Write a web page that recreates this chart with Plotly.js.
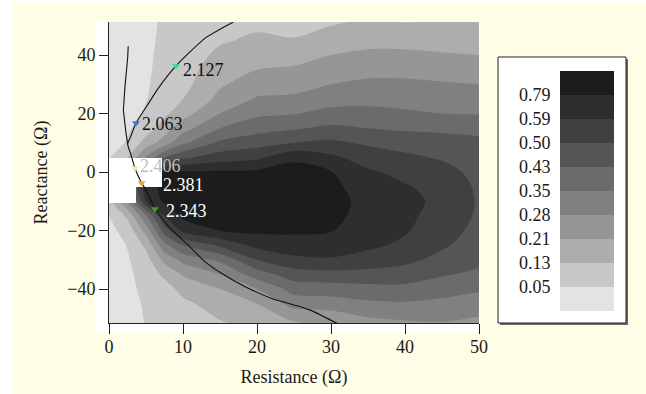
<!DOCTYPE html>
<html><head><meta charset="utf-8">
<script src="https://cdn.plot.ly/plotly-3.0.1.min.js"></script>
<style>
html,body{margin:0;padding:0;background:#ffffff;}
#chart{position:absolute;left:12px;top:3px;width:634px;height:391px;}
</style></head><body><div id="chart"></div>
<script>
// ---- data ----
const resistance = [0, 2.5, 5, 7.5, 10, 15, 20, 25, 30, 35, 40, 45, 50];
const reactance = [-52, -45, -40, -35, -30, -25, -20, -15, -10, -5, 0, 5, 10, 15, 20, 25, 30, 35, 40, 45, 52];
// one array per resistance value, listed from reactance -52 up to +52
const valueColumns = [
  [0.015,0.015,0.015,0.018,0.02,0.025,0.035,0.05,0.098,0.098,0.074,0.045,0.025,0.02,0.018,0.015,0.013,0.01,0.01,0.01,0.01],
  [0.025,0.03,0.035,0.04,0.045,0.054,0.082,0.146,0.28,0.35,0.245,0.13,0.058,0.043,0.035,0.03,0.028,0.025,0.025,0.023,0.02],
  [0.054,0.062,0.074,0.082,0.098,0.146,0.238,0.343,0.59,0.69,0.5,0.294,0.162,0.09,0.058,0.048,0.046,0.044,0.043,0.042,0.041],
  [0.07,0.082,0.098,0.146,0.231,0.329,0.465,0.59,0.83,0.85,0.81,0.43,0.245,0.17,0.114,0.086,0.074,0.07,0.066,0.062,0.058],
  [0.086,0.114,0.154,0.217,0.301,0.43,0.65,0.83,0.89,0.89,0.81,0.486,0.336,0.252,0.178,0.13,0.106,0.094,0.082,0.074,0.07],
  [0.122,0.162,0.21,0.28,0.366,0.518,0.79,0.87,0.90,0.89,0.82,0.545,0.444,0.35,0.28,0.23,0.2,0.178,0.15,0.12,0.082],
  [0.146,0.21,0.28,0.39,0.50,0.65,0.83,0.89,0.91,0.89,0.83,0.572,0.472,0.398,0.336,0.287,0.245,0.21,0.178,0.146,0.106],
  [0.194,0.308,0.382,0.465,0.5675,0.71,0.82,0.89,0.91,0.91,0.87,0.75,0.50,0.422,0.3465,0.294,0.252,0.2205,0.178,0.138,0.082],
  [0.21,0.315,0.39,0.4755,0.581,0.69,0.80,0.84,0.86,0.84,0.80,0.63,0.518,0.444,0.374,0.322,0.28,0.245,0.21,0.17,0.114],
  [0.252,0.336,0.402,0.4755,0.554,0.63,0.68,0.72,0.73,0.69,0.62,0.5495,0.4895,0.43,0.374,0.329,0.294,0.259,0.224,0.186,0.13],
  [0.266,0.343,0.406,0.4685,0.5225,0.572,0.61,0.63,0.65,0.61,0.563,0.518,0.472,0.418,0.362,0.3255,0.294,0.259,0.224,0.186,0.122],
  [0.273,0.3325,0.382,0.437,0.479,0.5135,0.5405,0.5585,0.5675,0.554,0.5315,0.493,0.458,0.414,0.35,0.3185,0.287,0.252,0.217,0.178,0.13],
  [0.259,0.315,0.36,0.414,0.4475,0.465,0.479,0.4895,0.493,0.4895,0.479,0.465,0.4475,0.406,0.3465,0.315,0.28,0.245,0.21,0.162,0.134]
];
const levelValues = [0.05, 0.13, 0.21, 0.28, 0.35, 0.43, 0.50, 0.59, 0.79];
const levelLabels = ['0.05', '0.13', '0.21', '0.28', '0.35', '0.43', '0.50', '0.59', '0.79'];

const curveR = [16.8, 13.0, 9.05, 6.67, 5.09, 3.65, 2.84, 2.52, 3.06, 3.5, 4.2, 5.1, 6.2, 7.3, 8.5, 10.7, 13.0, 15.2, 18.4, 22.0, 25.1, 27.2, 30.8];
const curveX = [51.3, 45.8, 36.3, 28.7, 22.5, 16.8, 11.6, 9.6, 5.2, 1.3, -2.7, -6.7, -12.3, -16.4, -19.8, -25.0, -30.7, -34.6, -39.2, -43.2, -45.5, -47.2, -51.7];
const branchR = [2.6, 2.52, 2.16, 1.94, 2.3, 2.52];
const branchX = [43, 39, 29.2, 21.2, 13.3, 9.6];

const pointR = [9.05, 3.65, 3.5, 4.4, 6.2];
const pointX = [36.3, 16.8, 1.3, -3.7, -12.6];
const pointLabels = ['2.127', '2.063', '2.406', '2.381', '2.343'];

// ---- styles ----
const bandColors = ['#e3e3e3','#c8c8c8','#adadad','#969696','#808080','#6b6b6b','#555555','#404040','#2e2e2e','#1c1c1c'];
const pointColors = ['#2ee39a', '#3a78d8', '#f2efa0', '#f7a526', '#4c9c1c'];
const labelColors = ['#111111', '#111111', '#bdbdbd', '#ffffff', '#ffffff'];
const labelDx = [5, 4, 3, 19, 9];
const labelDy = [-4, -1, 2, -2, -2];
const FONT = 'Liberation Serif, Times New Roman, serif';

// map a value onto the band-index scale (boundaries at 1..9)
function toBand(v) {
  if (v < levelValues[0]) return v / levelValues[0];
  for (let k = 0; k < levelValues.length - 1; k++) {
    if (v < levelValues[k + 1]) return (k + 1) + (v - levelValues[k]) / (levelValues[k + 1] - levelValues[k]);
  }
  return levelValues.length + (v - levelValues[levelValues.length - 1]) / 0.2;
}
const zBand = valueColumns.map(col => col.map(toBand));
const nb = bandColors.length - 1;
const colorscale = bandColors.map((c, i) => [i / nb, c]);

const traces = [
  {type: 'contour', x: resistance, y: reactance, z: zBand, transpose: true,
   xaxis: 'x', yaxis: 'y', colorscale: colorscale, showscale: false,
   contours: {coloring: 'fill', start: 1, end: levelValues.length, size: 1, showlines: false},
   line: {width: 0, smoothing: 0.9}, hoverinfo: 'skip'},
  {type: 'scatter', mode: 'lines', x: branchR, y: branchX, xaxis: 'x2', yaxis: 'y2',
   line: {color: '#111', width: 1.1}, hoverinfo: 'skip'},
  {type: 'scatter', mode: 'lines', x: curveR, y: curveX, xaxis: 'x2', yaxis: 'y2',
   line: {color: '#111', width: 1.1, shape: 'spline', smoothing: 0.5}, hoverinfo: 'skip'},
  {type: 'scatter', mode: 'markers', x: pointR, y: pointX, xaxis: 'x2', yaxis: 'y2',
   marker: {symbol: 'triangle-down', size: 7, color: pointColors, line: {width: 0}}, hoverinfo: 'skip'},
  {type: 'heatmap', x: [0], y: bandColors.map((_, i) => i + 0.5),
   z: bandColors.map((_, i) => [i]), xaxis: 'x3', yaxis: 'y3',
   colorscale: colorscale, zmin: 0, zmax: nb, showscale: false, hoverinfo: 'skip'}
];

const W = 634, H = 391, ML = 97, MR = 20, MT = 19, MB = 71;
const PW = W - ML - MR, PH = H - MT - MB;
const px = v => (v - 109) / PW;         // page x -> paper x
const py = v => (323 - v) / PH;         // page y -> paper y
const mainDom = [0, px(479)];

const layout = {
  width: W, height: H, margin: {l: ML, r: MR, t: MT, b: MB, pad: 0},
  paper_bgcolor: '#fffde6', plot_bgcolor: 'rgba(0,0,0,0)',
  font: {family: FONT, size: 18, color: '#1a1a1a'},
  showlegend: false,
  xaxis: {domain: mainDom, range: [0, 50], anchor: 'y', tickvals: [0, 10, 20, 30, 40, 50],
    ticks: 'outside', ticklen: 10, tickwidth: 1, tickcolor: '#222', showline: true, linecolor: '#222', linewidth: 1,
    showgrid: false, zeroline: false, fixedrange: true, ticklabelstandoff: -3,
    title: {text: 'Resistance (Ω)', font: {size: 18, family: FONT}, standoff: 14}},
  yaxis: {domain: [0, 1], range: [-51.6, 51.3], anchor: 'x', tickvals: [-40, -20, 0, 20, 40],
    ticks: 'outside', ticklen: 9, tickwidth: 1, tickcolor: '#222', showline: true, linecolor: '#222', linewidth: 1,
    showgrid: false, zeroline: false, fixedrange: true,
    title: {text: 'Reactance (Ω)', font: {size: 18, family: FONT}, standoff: 14}},
  xaxis2: {domain: mainDom, range: [0, 50], anchor: 'y2', visible: false, fixedrange: true},
  yaxis2: {domain: [0, 1], range: [-51.6, 51.3], anchor: 'x2', visible: false, fixedrange: true},
  xaxis3: {domain: [px(560), px(614)], range: [-0.5, 0.5], anchor: 'y3', visible: false, fixedrange: true},
  yaxis3: {domain: [py(311), py(71)], range: [0, levelLabels.length + 1], anchor: 'x3',
    tickvals: levelValues.map((_, i) => i + 1), ticktext: levelLabels,
    ticks: 'outside', ticklen: 5, tickcolor: 'rgba(0,0,0,0)', showline: false, showgrid: false, zeroline: false,
    tickfont: {size: 18, family: FONT, color: '#1a1a1a'}, fixedrange: true},
  shapes: [
    {type: 'rect', xref: 'paper', yref: 'paper', x0: px(96), x1: px(480), y0: py(333), y1: 1,
     fillcolor: '#ffffff', line: {width: 0}, layer: 'below'},
    {type: 'rect', xref: 'paper', yref: 'paper', x0: px(500), x1: px(628), y0: py(325), y1: py(59),
     fillcolor: '#6a6a6a', line: {width: 0}, layer: 'below'},
    {type: 'rect', xref: 'paper', yref: 'paper', x0: px(498), x1: px(626), y0: py(323), y1: py(57),
     fillcolor: '#ffffff', line: {width: 1, color: '#222'}, layer: 'below'},
    {type: 'rect', xref: 'x2', yref: 'y2', x0: 0, x1: 3.65, y0: -10.6, y1: 4.8,
     fillcolor: '#ffffff', line: {width: 0}, layer: 'below'},
    {type: 'rect', xref: 'x2', yref: 'y2', x0: 3.65, x1: 7.16, y0: -5.1, y1: 4.8,
     fillcolor: '#ffffff', line: {width: 0}, layer: 'below'}
  ],
  annotations: pointLabels.map((t, i) => ({
    x: pointR[i], y: pointX[i], xref: 'x2', yref: 'y2', text: t, showarrow: false,
    xanchor: 'left', yanchor: 'middle', xshift: labelDx[i], yshift: labelDy[i],
    font: {family: FONT, size: 18, color: labelColors[i]}
  }))
};

Plotly.newPlot('chart', traces, layout, {staticPlot: true, displayModeBar: false});
</script></body></html>
